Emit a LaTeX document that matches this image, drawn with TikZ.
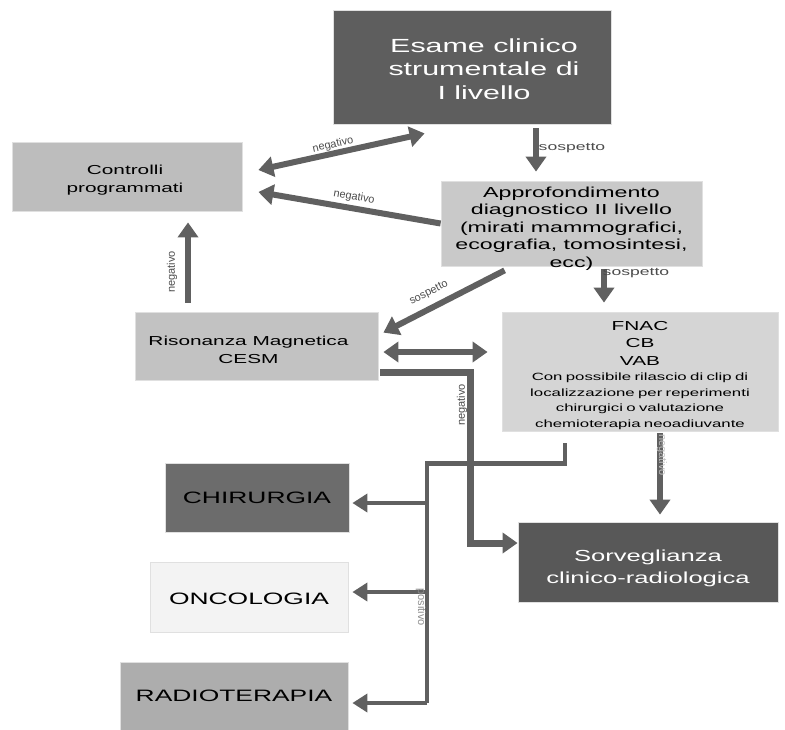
\documentclass[tikz,border=0pt]{standalone}
\usepackage{fontspec}
\setmainfont{Liberation Sans}[FakeStretch=1.6]
\newfontfamily\labelfont{Liberation Sans}
\usetikzlibrary{arrows.meta}
\definecolor{arrowgray}{HTML}{606060}
\definecolor{darkbox}{HTML}{5E5E5E}
\definecolor{survbox}{HTML}{585858}
\definecolor{surgbox}{HTML}{6C6C6C}
\definecolor{ctrlbox}{HTML}{BDBDBD}
\definecolor{deepbox}{HTML}{C9C9C9}
\definecolor{rmbox}{HTML}{C2C2C2}
\definecolor{fnacbox}{HTML}{D5D5D5}
\definecolor{oncobox}{HTML}{F3F3F3}
\definecolor{radiobox}{HTML}{ADADAD}
\begin{document}
\begin{tikzpicture}[x=1pt,y=-1pt,
  box/.style={rectangle, draw=black!12, line width=0.8pt, inner sep=0pt},
  boxtext/.style={inner sep=0pt, align=center},
  arr/.style={draw=arrowgray, line width=6pt, -{Triangle[width=20pt,length=15pt]}},
  darr/.style={draw=arrowgray, line width=6pt, {Triangle[width=20pt,length=15pt]}-{Triangle[width=20pt,length=15pt]}},
  brk/.style={draw=arrowgray, line width=4.5pt, line join=miter},
  brarr/.style={draw=arrowgray, line width=4.5pt, -{Triangle[width=18pt,length=15pt]}},
  lbl/.style={font=\labelfont\fontsize{11}{13}\selectfont, text=black!70, inner sep=0pt},
  lblh/.style={font=\fontsize{11}{13}\selectfont, text=black!70, inner sep=0pt}]
\useasboundingbox (0,0) rectangle (785,729);

% boxes
\node[box, fill=darkbox, minimum width=278pt, minimum height=114pt] (esame) at (472,67) {};
\node[box, fill=ctrlbox, minimum width=230pt, minimum height=69pt] (controlli) at (127,176.5) {};
\node[box, fill=deepbox, minimum width=261pt, minimum height=85pt] (approf) at (571.5,223.5) {};
\node[box, fill=rmbox, minimum width=243pt, minimum height=68pt] (rm) at (256.5,346) {};
\node[box, fill=fnacbox, minimum width=276pt, minimum height=119pt] (fnac) at (640,371.5) {};
\node[box, fill=surgbox, minimum width=184pt, minimum height=69pt] (chir) at (257,497.5) {};
\node[box, fill=oncobox, minimum width=198pt, minimum height=70pt] (onco) at (249,597) {};
\node[box, fill=radiobox, minimum width=228pt, minimum height=68pt] (radio) at (234,696) {};
\node[box, fill=survbox, minimum width=260pt, minimum height=80pt] (sorv) at (648,562) {};

% box texts
\node[boxtext, text=white, font=\fontsize{19}{23.5}\selectfont] (esame-t)
  at ([xshift=12pt,yshift=-2pt]esame.center) {Esame clinico\\strumentale di\\I livello};
\node[boxtext, font=\fontsize{13}{18}\selectfont] (controlli-t)
  at ([xshift=-2pt,yshift=-4pt]controlli.center) {Controlli\\programmati};
\node[boxtext, font=\fontsize{14.5}{17.5}\selectfont] (approf-t)
  at ([yshift=-5pt]approf.center)
  {Approfondimento\\diagnostico II livello\\(mirati mammografici,\\ecografia, tomosintesi,\\ecc)};
\node[boxtext, font=\fontsize{13}{18}\selectfont] (rm-t)
  at ([xshift=-8pt,yshift=-4pt]rm.center) {Risonanza Magnetica\\CESM};
\node[boxtext, text width=270pt] (fnac-t) at ([yshift=-4pt]fnac.center)
  {\fontsize{13}{17.5}\selectfont FNAC\\CB\\VAB\par
   \fontsize{10.5}{15.5}\selectfont Con possibile rilascio di clip di\\localizzazione per reperimenti\\chirurgici o valutazione\\chemioterapia neoadiuvante\par};
\node[boxtext, font=\fontsize{16.5}{20}\selectfont] (chir-t) at (chir.center) {CHIRURGIA};
\node[boxtext, font=\fontsize{16.5}{20}\selectfont] (onco-t) at ([yshift=-2pt]onco.center) {ONCOLOGIA};
\node[boxtext, font=\fontsize{16.5}{20}\selectfont] (radio-t) at (radio.center) {RADIOTERAPIA};
\node[boxtext, text=white, font=\fontsize{16}{22}\selectfont] (sorv-t)
  at ([yshift=-6pt]sorv.center) {Sorveglianza\\clinico-radiologica};

% connectors
\draw[darr] ([xshift=16pt,yshift=6.5pt]controlli.east) -- ([xshift=92pt,yshift=-9pt]esame.south west);
\draw[arr] (approf.west) -- ([xshift=16pt,yshift=-15.5pt]controlli.east);
\draw[arr] ([xshift=64pt,yshift=-4pt]esame.south) -- ([xshift=-35.5pt,yshift=9pt]approf.north);
\draw[arr] ([xshift=32.5pt,yshift=-3pt]approf.south) -- ([xshift=-36pt,yshift=9pt]fnac.north);
\draw[arr] ([xshift=64pt,yshift=-4pt]approf.south west) -- ([xshift=5pt,yshift=-21pt]rm.north east);
\draw[arr] ([xshift=-68.5pt,yshift=9pt]rm.north) -- ([xshift=61pt,yshift=-11pt]controlli.south);
\draw[darr] ([xshift=5pt,yshift=-6pt]rm.east) -- ([xshift=-14pt,yshift=19.5pt]fnac.west);
\draw[arr, line width=7pt, line join=miter] ([xshift=2pt,yshift=-26pt]rm.east) -- ++(90,0) |- ([yshift=19pt]sorv.west);
\draw[arr] ([xshift=20pt,yshift=-2pt]fnac.south) -- ([xshift=12pt,yshift=7pt]sorv.north);

% positive outcome branches
\coordinate (fnacfoot) at ([xshift=-75pt,yshift=-12pt]fnac.south);
\coordinate (chirtip) at ([xshift=3pt,yshift=-5.5pt]chir.east);
\coordinate (oncotip) at ([xshift=4pt,yshift=5pt]onco.east);
\coordinate (radiotip) at ([xshift=4pt,yshift=-7pt]radio.east);
\draw[brk] (fnacfoot) -- ++(0,20) -- ++(-138,0) coordinate (split) -- (split |- radiotip);
\draw[brarr] (split |- chirtip) -- (chirtip);
\draw[brarr] (split |- oncotip) -- (oncotip);
\draw[brarr] (split |- radiotip) -- (radiotip);

% connector labels
\node[lbl, rotate=12.5] (lneg1) at (333,145) {negativo};
\node[lbl, rotate=-10] (lneg2) at (354,197) {negativo};
\node[lbl, rotate=27] (lsos3) at (429,293) {sospetto};
\node[lbl, rotate=90] (lneg4) at (172,272) {negativo};
\node[lblh] (lsos1) at (572,148) {sospetto};
\node[lblh] (lsos2) at (636,273) {sospetto};
\node[lbl, rotate=90] (lneg5) at (462,405) {negativo};
\node[lbl, rotate=-90, text=black!25] (lneg6) at (662,455) {negativo};
\node[lbl, rotate=-90, text=black!45] (lpos) at (421,607) {positivo};
\end{tikzpicture}
\end{document}
